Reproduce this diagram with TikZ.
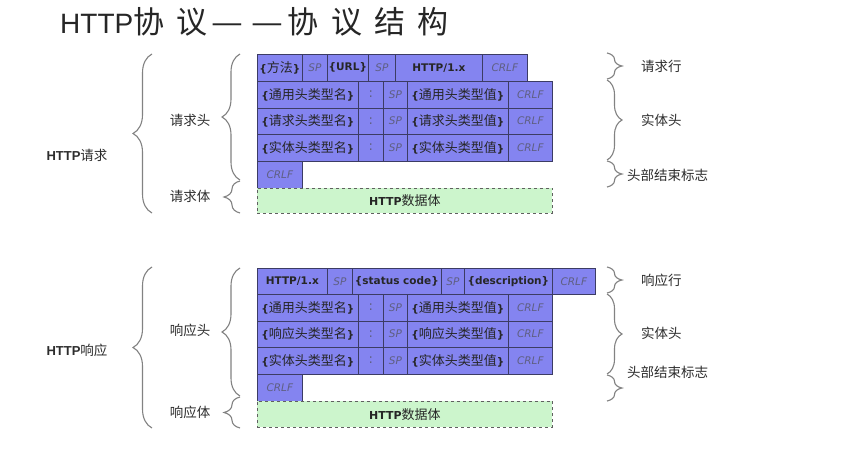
\documentclass[tikz,border=0pt]{standalone}
\usepackage{fontspec}
\setmainfont{DejaVu Sans}
\newfontfamily\arialf{Liberation Sans}
\newfontfamily\cjk{Noto Sans CJK SC}
\newfontfamily\cjkT[LetterSpace=40]{Noto Sans CJK SC}
\usetikzlibrary{decorations.pathreplacing}
\definecolor{cellblue}{RGB}{132,132,240}
\definecolor{cellborder}{RGB}{60,60,100}
\definecolor{bodygreen}{RGB}{204,245,204}
\definecolor{sptext}{RGB}{95,95,130}
\definecolor{bracegray}{RGB}{130,130,130}
\definecolor{labeltext}{RGB}{45,45,45}
\newcommand\cz[1]{{\cjk\mdseries\fontsize{13}{15}\selectfont #1}}
\newcommand\lz[1]{{\cjk\fontsize{13.5}{15}\selectfont #1}}
\newcommand\tdash{\makebox[40pt][c]{\scalebox{1.15}[1]{—}}}
\tikzset{
 cell/.style={draw=cellborder, fill=cellblue, line width=0.7pt, anchor=north west, inner sep=0pt,
   font=\fontsize{10.5}{12}\selectfont\bfseries, text=black!85},
 sp/.style={cell, font=\fontsize{10.5}{12}\selectfont\mdseries\itshape, text=sptext},
 colon/.style={cell, font=\fontsize{13}{14}\selectfont\mdseries, text=sptext},
 body/.style={draw=gray!75!black, dashed, fill=bodygreen, line width=0.8pt, anchor=north west,
   inner sep=0pt, font=\fontsize{11}{12}\selectfont\bfseries, text=black!85},
 lbl/.style={inner sep=0pt, text=labeltext},
 brc/.style={draw=bracegray, line width=1.1pt, decorate, decoration={brace, amplitude=#1}},
}
\begin{document}
\begin{tikzpicture}[x=1pt,y=-1pt]
\useasboundingbox (0,0) rectangle (851,452);
\fill[white] (0,0) rectangle (851,452);

% title
\node[anchor=west, inner sep=0pt, text=black!85] (title) at (60,22)
  {{\arialf\fontsize{28}{30}\selectfont HTTP}{\cjkT\fontsize{31}{33}\selectfont 协议\tdash\tdash 协议结构}};

% ---------------- request ----------------
\node[cell, minimum width=45, minimum height=27] (q1a) at (257,54) {\{\cz{方法}\}};
\node[sp,   minimum width=25, minimum height=27] (q1b) at (302,54) {SP};
\node[cell, minimum width=41, minimum height=27] (q1c) at (327,54) {\{URL\}};
\node[sp,   minimum width=27, minimum height=27] (q1d) at (368,54) {SP};
\node[cell, minimum width=87, minimum height=27] (q1e) at (395,54) {HTTP/1.x};
\node[sp,   minimum width=45, minimum height=27] (q1f) at (482,54) {CRLF};

\node[cell,  minimum width=101, minimum height=26.5] (q2a) at (257,81) {\{\cz{通用头类型名}\}};
\node[colon, minimum width=25,  minimum height=26.5] (q2b) at (358,81) {:};
\node[sp,    minimum width=24,  minimum height=26.5] (q2c) at (383,81) {SP};
\node[cell,  minimum width=101, minimum height=26.5] (q2d) at (407,81) {\{\cz{通用头类型值}\}};
\node[sp,    minimum width=44,  minimum height=26.5] (q2e) at (508,81) {CRLF};

\node[cell,  minimum width=101, minimum height=26.5] (q3a) at (257,107.5) {\{\cz{请求头类型名}\}};
\node[colon, minimum width=25,  minimum height=26.5] (q3b) at (358,107.5) {:};
\node[sp,    minimum width=24,  minimum height=26.5] (q3c) at (383,107.5) {SP};
\node[cell,  minimum width=101, minimum height=26.5] (q3d) at (407,107.5) {\{\cz{请求头类型值}\}};
\node[sp,    minimum width=44,  minimum height=26.5] (q3e) at (508,107.5) {CRLF};

\node[cell,  minimum width=101, minimum height=26.5] (q4a) at (257,134) {\{\cz{实体头类型名}\}};
\node[colon, minimum width=25,  minimum height=26.5] (q4b) at (358,134) {:};
\node[sp,    minimum width=24,  minimum height=26.5] (q4c) at (383,134) {SP};
\node[cell,  minimum width=101, minimum height=26.5] (q4d) at (407,134) {\{\cz{实体头类型值}\}};
\node[sp,    minimum width=44,  minimum height=26.5] (q4e) at (508,134) {CRLF};

\node[sp, minimum width=45, minimum height=27] (q5) at (257,160.5) {CRLF};
\node[body, minimum width=295, minimum height=25.5] (qbody) at (257,187.5) {HTTP\cz{数据体}};

% ---------------- response ----------------
\node[cell, minimum width=70, minimum height=26] (s1a) at (257,268) {HTTP/1.x};
\node[sp,   minimum width=25, minimum height=26] (s1b) at (327,268) {SP};
\node[cell, minimum width=89, minimum height=26] (s1c) at (352,268) {\{status code\}};
\node[sp,   minimum width=23, minimum height=26] (s1d) at (441,268) {SP};
\node[cell, minimum width=88, minimum height=26] (s1e) at (464,268) {\{description\}};
\node[sp,   minimum width=43, minimum height=26] (s1f) at (552,268) {CRLF};

\node[cell,  minimum width=101, minimum height=26.5] (s2a) at (257,294) {\{\cz{通用头类型名}\}};
\node[colon, minimum width=25,  minimum height=26.5] (s2b) at (358,294) {:};
\node[sp,    minimum width=24,  minimum height=26.5] (s2c) at (383,294) {SP};
\node[cell,  minimum width=101, minimum height=26.5] (s2d) at (407,294) {\{\cz{通用头类型值}\}};
\node[sp,    minimum width=44,  minimum height=26.5] (s2e) at (508,294) {CRLF};

\node[cell,  minimum width=101, minimum height=26.5] (s3a) at (257,320.5) {\{\cz{响应头类型名}\}};
\node[colon, minimum width=25,  minimum height=26.5] (s3b) at (358,320.5) {:};
\node[sp,    minimum width=24,  minimum height=26.5] (s3c) at (383,320.5) {SP};
\node[cell,  minimum width=101, minimum height=26.5] (s3d) at (407,320.5) {\{\cz{响应头类型值}\}};
\node[sp,    minimum width=44,  minimum height=26.5] (s3e) at (508,320.5) {CRLF};

\node[cell,  minimum width=101, minimum height=26.5] (s4a) at (257,347) {\{\cz{实体头类型名}\}};
\node[colon, minimum width=25,  minimum height=26.5] (s4b) at (358,347) {:};
\node[sp,    minimum width=24,  minimum height=26.5] (s4c) at (383,347) {SP};
\node[cell,  minimum width=101, minimum height=26.5] (s4d) at (407,347) {\{\cz{实体头类型值}\}};
\node[sp,    minimum width=44,  minimum height=26.5] (s4e) at (508,347) {CRLF};

\node[sp, minimum width=45, minimum height=27] (s5) at (257,373.5) {CRLF};
\node[body, minimum width=295, minimum height=26.5] (sbody) at (257,400.5) {HTTP\cz{数据体}};

% ---------------- braces: request ----------------
\draw[brc=19pt] (152,213) -- (152,54);
\draw[brc=18pt] (240,180) -- (240,54);
\draw[brc=16pt] (240,213) -- (240,181);
\node[lbl] (lreq)  at (77,155) {{\arialf\bfseries\fontsize{13}{15}\selectfont HTTP}\lz{请求}};
\node[lbl] (lreqh) at (190,120) {\lz{请求头}};
\node[lbl] (lreqb) at (190,196) {\lz{请求体}};

\draw[brc=15pt] (607,53) -- (607,79);
\draw[brc=15pt] (607,80) -- (607,160);
\draw[brc=15pt] (607,161) -- (607,187);
\node[lbl, anchor=west] (rq1) at (641,66) {\lz{请求行}};
\node[lbl, anchor=west] (rq2) at (641,120) {\lz{实体头}};
\node[lbl, anchor=west] (rq3) at (627,175) {\lz{头部结束标志}};

% ---------------- braces: response ----------------
\draw[brc=19pt] (152,428) -- (152,267);
\draw[brc=18pt] (240,396) -- (240,268);
\draw[brc=16pt] (240,428) -- (240,397);
\node[lbl] (lres)  at (77,350) {{\arialf\bfseries\fontsize{13}{15}\selectfont HTTP}\lz{响应}};
\node[lbl] (lresh) at (190,330) {\lz{响应头}};
\node[lbl] (lresb) at (190,412) {\lz{响应体}};

\draw[brc=15pt] (607,267) -- (607,293);
\draw[brc=15pt] (607,294) -- (607,374);
\draw[brc=15pt] (607,375) -- (607,401);
\node[lbl, anchor=west] (rs1) at (641,280) {\lz{响应行}};
\node[lbl, anchor=west] (rs2) at (641,333) {\lz{实体头}};
\node[lbl, anchor=west] (rs3) at (627,372) {\lz{头部结束标志}};
\end{tikzpicture}
\end{document}
